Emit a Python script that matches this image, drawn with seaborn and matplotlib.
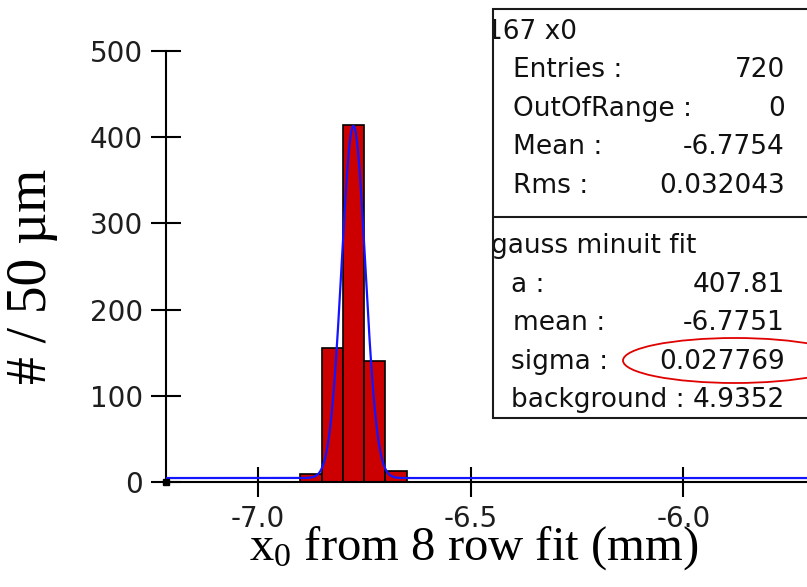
import numpy as np
import pandas as pd
import matplotlib
matplotlib.use("Agg")
import matplotlib.pyplot as plt
import seaborn as sns
from matplotlib.patches import Rectangle, Ellipse
from matplotlib.lines import Line2D
from matplotlib.transforms import Bbox

# ---------------- data ----------------
bin_edges = [-6.90, -6.85, -6.80, -6.75, -6.70, -6.65]
bin_counts = [10, 156, 414, 140, 13]

fit_a = 407.81
fit_mean = -6.7751
fit_sigma = 0.027769
fit_bg = 4.9352

hist_title = "167 x0"
stats_labels = ["Entries :", "OutOfRange :", "Mean :", "Rms :"]
stats_values = ["720", "0", "-6.7754", "0.032043"]
fit_title = "gauss minuit fit"
fit_labels = ["a :", "mean :", "sigma :", "background :"]
fit_values = ["407.81", "-6.7751", "0.027769", "4.9352"]

y_ticks = [0, 100, 200, 300, 400, 500]
x_ticks = [-7.0, -6.5, -6.0]
x_tick_labels = ["-7.0", "-6.5", "-6.0"]
x_range = (-7.2155, -5.7094)
y_range = (0, 500)

# ---------------- style ----------------
W, H = 807, 587
sns.set_style("ticks")
plt.rcParams["font.family"] = ["DejaVu Sans"]
plt.rcParams["mathtext.fontset"] = "custom"
plt.rcParams["mathtext.rm"] = "Liberation Serif"
plt.rcParams["mathtext.it"] = "Liberation Serif:italic"

fig = plt.figure(figsize=(W / 100, H / 100), dpi=100)
fig.patch.set_facecolor("white")

def fx(x):
    return x / W

def fy(y):
    return 1 - y / H

ax_left, ax_right, ax_top, ax_bottom = 166, 807, 50.7, 482.3
ax = fig.add_axes([fx(ax_left), fy(ax_bottom), (ax_right - ax_left) / W,
                   (ax_bottom - ax_top) / H])
ax.set_facecolor("white")

centers = [(bin_edges[i] + bin_edges[i + 1]) / 2 for i in range(len(bin_counts))]
df = pd.DataFrame({"x": centers, "n": bin_counts})
sns.histplot(data=df, x="x", weights="n", bins=bin_edges, ax=ax,
             color="#cc0000", edgecolor="black", linewidth=1.2, alpha=1.0,
             zorder=2)

xs = np.linspace(x_range[0], x_range[1], 3000)
ys = fit_a * np.exp(-0.5 * ((xs - fit_mean) / fit_sigma) ** 2) + fit_bg
sns.lineplot(x=xs, y=ys, ax=ax, color="#1414ff", linewidth=1.6,
             estimator=None, sort=False, zorder=3)

ax.set_xlim(*x_range)
ax.set_ylim(*y_range)
ax.set_xticks(x_ticks)
ax.set_xticklabels(x_tick_labels)
ax.set_yticks(y_ticks)
ax.set_xlabel("")
ax.set_ylabel("")

for s in ["top", "right"]:
    ax.spines[s].set_visible(False)
for s in ["left", "bottom"]:
    ax.spines[s].set_color("black")
    ax.spines[s].set_linewidth(1.5)

ax.tick_params(axis="both", direction="inout", length=21, width=1.5,
               color="black", labelsize=20, labelcolor="#1e1e1e")
ax.tick_params(axis="y", pad=6)
ax.tick_params(axis="x", pad=6)

# small square at the origin corner
ax.plot([0], [0], marker="s", ms=5, color="black", transform=ax.transAxes,
        clip_on=False, zorder=5)

# axis labels
fig.text(fx(32), fy(276), "# / 50 µm", rotation=90, ha="center", va="center",
         fontsize=40, family="Liberation Serif", color="black")
fig.text(fx(473.5), fy(560), r"x$_\mathrm{0}$ from 8 row fit (mm)",
         ha="center", va="baseline", fontsize=35, family="Liberation Serif",
         color="black")

# statistics box
box_l, box_t, box_b, box_div = 492.7, 9.3, 418, 216.7
rect = Rectangle((fx(box_l), fy(box_b)), (830 - box_l) / W, (box_b - box_t) / H,
                 transform=fig.transFigure, facecolor="white",
                 edgecolor="#1a1a1a", linewidth=1.5, zorder=10)
fig.add_artist(rect)
fig.add_artist(Line2D([fx(box_l), fx(830)], [fy(box_div), fy(box_div)],
                      transform=fig.transFigure, color="#1a1a1a",
                      linewidth=1.5, zorder=11))

clip = Bbox.from_extents(box_l + 1, 0, W, H)
fs = 19
tc = "#111111"
t = fig.text(fx(486), fy(32), hist_title, ha="left", va="center",
             fontsize=fs, color=tc, zorder=12)
t.set_clip_box(clip)
t.set_clip_on(True)

rows_y = [70, 109, 147, 186]
for lab, val, y in zip(stats_labels, stats_values, rows_y):
    fig.text(fx(513), fy(y), lab, ha="left", va="center", fontsize=fs,
             color=tc, zorder=12)
    fig.text(fx(785), fy(y), val, ha="right", va="center", fontsize=fs,
             color=tc, zorder=12)

t2 = fig.text(fx(491), fy(246), fit_title, ha="left", va="center",
              fontsize=fs, color=tc, zorder=12)
t2.set_clip_box(clip)
t2.set_clip_on(True)

fit_rows_y = [285, 323, 362, 400]
fit_label_x = [511, 513, 511, 511]
for lab, val, y, lx in zip(fit_labels, fit_values, fit_rows_y, fit_label_x):
    fig.text(fx(lx), fy(y), lab, ha="left", va="center", fontsize=fs,
             color=tc, zorder=12)
    fig.text(fx(785), fy(y), val, ha="right", va="center", fontsize=fs,
             color=tc, zorder=12)

# red ellipse highlighting sigma
ell = Ellipse((fx(735), fy(360.5)), 224 / W, 45 / H, transform=fig.transFigure,
              fill=False, edgecolor="#e00000", linewidth=1.3, zorder=13)
fig.add_artist(ell)

fig.savefig("out.png", dpi=100, facecolor="white")
